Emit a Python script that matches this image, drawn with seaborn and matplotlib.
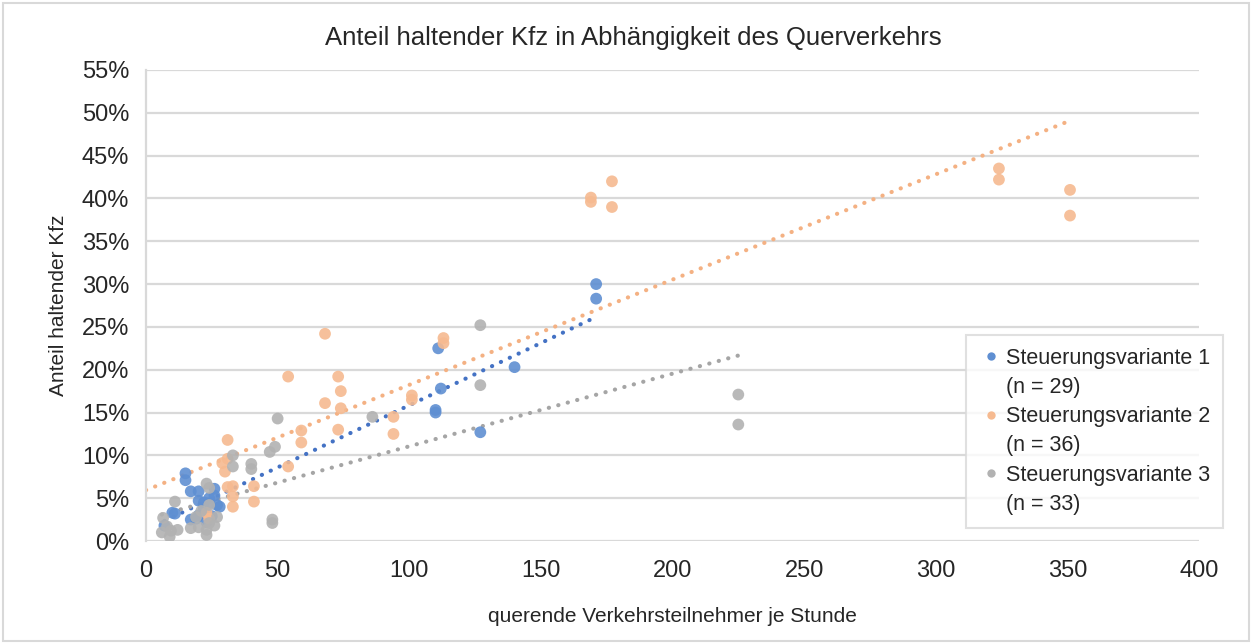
import numpy as np
import pandas as pd
import matplotlib
matplotlib.use("Agg")
import matplotlib.pyplot as plt
from matplotlib.lines import Line2D
from matplotlib.patches import Rectangle
import seaborn as sns

# Querverkehr (Verkehrsteilnehmer je Stunde) und Anteil haltender Kfz (%)
x_v1 = [171, 171, 140, 111, 112, 110, 110, 127, 15, 15, 17, 20, 26, 26, 24,
        20, 27, 28, 10, 11, 17, 19, 22, 24, 20, 7, 23, 25, 22]
y_v1 = [30.0, 28.3, 20.3, 22.5, 17.8, 15.3, 15.0, 12.7, 7.9, 7.1, 5.8, 5.8, 6.1, 5.3, 5.0,
        4.7, 4.2, 4.0, 3.3, 3.2, 2.5, 2.6, 3.8, 4.4, 3.0, 1.8, 2.2, 2.9, 4.5]

x_v2 = [324, 324, 351, 351, 177, 177, 169, 169, 113, 113, 101, 101, 94, 94, 68, 54,
        73, 74, 68, 74, 73, 59, 59, 54, 41, 41, 31, 31, 30, 29, 33, 31, 33, 33, 23, 24]
y_v2 = [43.5, 42.2, 41.0, 38.0, 42.0, 39.0, 40.1, 39.6, 23.7, 23.1, 17.0, 16.5, 14.5, 12.5, 24.2, 19.2,
        19.2, 17.5, 16.1, 15.5, 13.0, 12.9, 11.5, 8.7, 6.4, 4.6, 11.8, 9.6, 8.1, 9.1, 6.4, 6.3, 5.2, 4.0, 3.3, 2.6]

x_v3 = [225, 225, 127, 127, 86, 50, 49, 47, 40, 40, 33, 33, 48, 48, 23, 24, 11,
        6.5, 8, 6, 9.5, 9, 12, 19, 20, 23, 23, 24, 27, 24, 26, 21, 17]
y_v3 = [17.1, 13.6, 25.2, 18.2, 14.5, 14.3, 11.0, 10.4, 9.0, 8.4, 10.0, 8.7, 2.5, 2.1, 6.7, 6.2, 4.6,
        2.7, 1.7, 1.0, 1.2, 0.5, 1.3, 2.8, 1.6, 1.3, 0.7, 2.1, 2.8, 4.2, 1.8, 3.5, 1.5]

variants = ["Steuerungsvariante 1", "Steuerungsvariante 2", "Steuerungsvariante 3"]
x_ticks = [0, 50, 100, 150, 200, 250, 300, 350, 400]
y_ticks = [0, 5, 10, 15, 20, 25, 30, 35, 40, 45, 50, 55]

marker_colors = ["#5F8FD2", "#F6BA90", "#B2B2B2"]
trend_colors = ["#4472C4", "#F4B183", "#A5A5A5"]

df = pd.concat([
    pd.DataFrame({"x": x_v1, "y": y_v1, "Variante": variants[0]}),
    pd.DataFrame({"x": x_v2, "y": y_v2, "Variante": variants[1]}),
    pd.DataFrame({"x": x_v3, "y": y_v3, "Variante": variants[2]}),
], ignore_index=True)

sns.set_theme(style="white")
plt.rcParams["font.family"] = ["Liberation Sans", "DejaVu Sans"]

fig = plt.figure(figsize=(12.52, 6.44), dpi=100)
ax = fig.add_axes([146 / 1252, 1 - 541 / 644, (1199 - 146) / 1252, (541 - 70) / 644])

# Linear trend lines (round dots), drawn under the markers
trend_start = [None, 0.0, None]
for i, name in enumerate(variants):
    sub = df[df["Variante"] == name]
    k, d = np.polyfit(sub["x"], sub["y"], 1)
    x0 = sub["x"].min() if trend_start[i] is None else trend_start[i]
    xs = np.linspace(x0, sub["x"].max(), 50)
    ax.plot(xs, k * xs + d, color=trend_colors[i], lw=3.0,
            linestyle=(0, (0.05, 2.3)), dash_capstyle="round", zorder=2)

sns.scatterplot(data=df, x="x", y="y", hue="Variante", hue_order=variants,
                palette=marker_colors, s=72, alpha=0.9, edgecolor="none",
                legend=False, ax=ax, zorder=3)

ax.set_xlim(0, 400)
ax.set_ylim(0, 55)
ax.set_xticks(x_ticks)
ax.set_yticks(y_ticks)
ax.set_xticklabels([str(t) for t in x_ticks], fontsize=17)
ax.set_yticklabels([f"{t}%" for t in y_ticks], fontsize=17)
ax.tick_params(axis="x", length=0, pad=14, colors="#262626")
ax.tick_params(axis="y", length=0, pad=12, colors="#262626")
ax.grid(axis="y", color="#D9D9D9", lw=1.6)
ax.grid(axis="x", visible=False)
for side in ["top", "right", "bottom"]:
    ax.spines[side].set_visible(False)
ax.spines["left"].set_color("#D9D9D9")
ax.spines["left"].set_linewidth(1.6)
ax.set_axisbelow(True)

ax.set_xlabel("querende Verkehrsteilnehmer je Stunde", fontsize=15, labelpad=18, color="#262626")
ax.set_ylabel("Anteil haltender Kfz", fontsize=15, labelpad=10, color="#262626")
fig.text(0.5 * (322 + 944) / 1252, 1 - 38 / 644,
         "Anteil haltender Kfz in Abhängigkeit des Querverkehrs",
         ha="center", va="center", fontsize=18.5, color="#262626")

# Legend: marker on the first line, sample size on a second line
counts = [len(x_v1), len(x_v2), len(x_v3)]
handles, labels = [], []
for i in range(3):
    handles.append(Line2D([], [], marker="o", linestyle="none", markersize=6,
                          markerfacecolor=marker_colors[i], markeredgecolor="none"))
    labels.append(variants[i])
    handles.append(Line2D([], [], linestyle="none", marker=None))
    labels.append(f"(n = {counts[i]})")
leg = fig.legend(handles, labels, loc="upper left",
                 bbox_to_anchor=(966 / 1252, 1 - 335 / 644),
                 bbox_transform=fig.transFigure, frameon=True, fancybox=False,
                 edgecolor="#D9D9D9", handletextpad=0.15, borderaxespad=0,
                 handlelength=1.1, labelspacing=0.38, borderpad=0.6,
                 prop={"family": ["Liberation Sans", "DejaVu Sans"], "size": 15.5})
leg.get_frame().set_linewidth(1.5)
for t in leg.get_texts():
    t.set_color("#262626")

# Chart area border
fig.patches.append(Rectangle((3 / 1252, 3 / 644), 1 - 6 / 1252, 1 - 6 / 644,
                             transform=fig.transFigure, fill=False,
                             edgecolor="#D9D9D9", lw=1.5))

fig.savefig("out.png", dpi=100)
